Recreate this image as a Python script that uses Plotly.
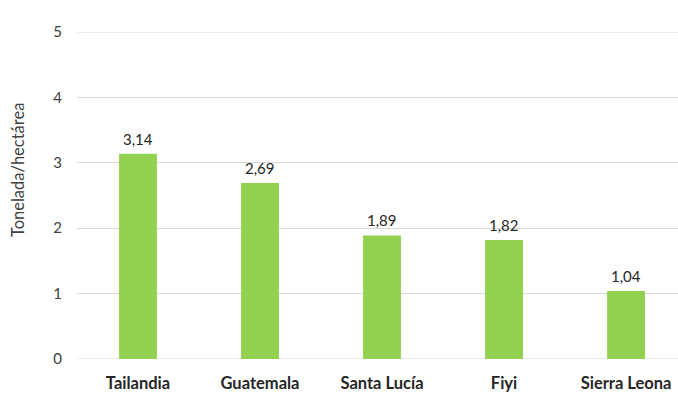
import plotly.graph_objects as go

countries = ["Tailandia", "Guatemala", "Santa Lucía", "Fiyi", "Sierra Leona"]
values = [3.14, 2.69, 1.89, 1.82, 1.04]
y_ticks = [0, 1, 2, 3, 4, 5]
y_title = "Tonelada/hectárea"

font_family = "Lato, 'Open Sans', sans-serif"

fig = go.Figure(go.Bar(
    x=countries,
    y=values,
    marker=dict(color="#92D050", line=dict(width=0)),
    width=0.31,
    hoverinfo="x+y",
))

for c, v in zip(countries, values):
    fig.add_annotation(
        x=c, y=v, xref="x", yref="y",
        text=f"{v:.2f}".replace(".", ","),
        showarrow=False, yanchor="bottom", yshift=4,
        font=dict(size=15, color="#262626", family=font_family),
    )

fig.add_annotation(
    x=-0.098, y=0.578, xref="paper", yref="paper",
    text=y_title, textangle=-90, showarrow=False,
    xanchor="center", yanchor="middle",
    font=dict(size=16.5, color="#404040", family=font_family),
)

fig.update_layout(
    width=678, height=413,
    margin=dict(l=77, r=0, t=32, b=54),
    paper_bgcolor="white", plot_bgcolor="white",
    separators=",.",
    showlegend=False,
    font=dict(family=font_family, color="#404040"),
    xaxis=dict(
        range=[-0.5, 4.426],
        showgrid=False, zeroline=False, showline=False,
        ticks="", tickfont=dict(size=16.5, color="#262626", family=font_family),
        tickprefix="<b>", ticksuffix="</b>",
        ticklabelstandoff=12,
    ),
    yaxis=dict(
        range=[0, 5], tickvals=y_ticks,
        showgrid=True, gridcolor="#D9D9D9", gridwidth=1,
        zeroline=False, showline=False, ticks="",
        tickfont=dict(size=15, color="#404040"),
        ticklabelstandoff=14,
    ),
)
for gy in (0, 5):
    fig.add_shape(type="line", xref="paper", yref="y", x0=0, x1=1, y0=gy, y1=gy,
                  line=dict(color="#D9D9D9", width=1), layer="below")

fig.write_html("out.html", config={"displayModeBar": False},
               post_script="document.body.style.margin='0';document.body.style.padding='0';")
